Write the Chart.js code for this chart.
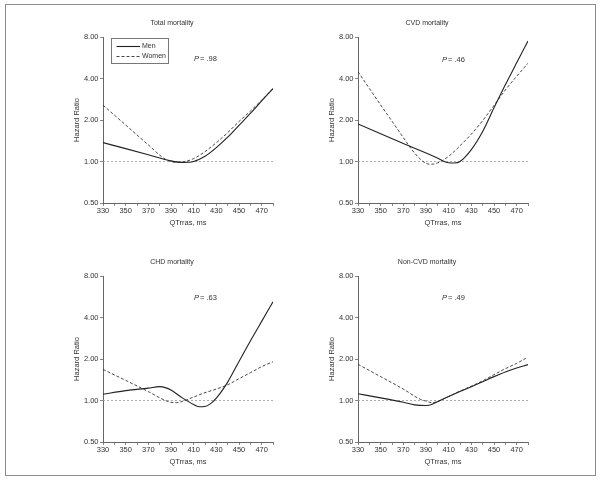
<!DOCTYPE html>
<html><head><meta charset="utf-8">
<script src="https://cdn.jsdelivr.net/npm/chart.js@4.4.1/dist/chart.umd.min.js"></script>
<style>
body{margin:0;background:#fff;width:600px;height:482px;position:relative;overflow:hidden}
#frame{position:absolute;left:5px;top:4px;width:591px;height:472px;border:1px solid #8a8a8a;box-sizing:border-box}
canvas{position:absolute}
</style></head><body>
<div id="frame"></div>
<canvas id="p1" width="207" height="211" style="left:71px;top:17px"></canvas>
<canvas id="p2" width="207" height="211" style="left:326px;top:17px"></canvas>
<canvas id="p3" width="207" height="211" style="left:71px;top:256px"></canvas>
<canvas id="p4" width="207" height="211" style="left:326px;top:256px"></canvas>
<script>
// ---- data ----
const panelTitles = ["Total mortality", "CVD mortality", "CHD mortality", "Non-CVD mortality"];
const pValues = [".98", ".46", ".63", ".49"];
const seriesNames = ["Men", "Women"];
const yTickValues = [0.5, 1, 2, 4, 8];
const xLabelValues = [330, 350, 370, 390, 410, 430, 450, 470];

const totalMenX   = [330, 350, 370, 390, 400, 410, 420, 430, 440, 450, 460, 470, 480];
const totalMenY   = [1.37, 1.24, 1.12, 1.01, 0.985, 1.0, 1.09, 1.26, 1.50, 1.83, 2.23, 2.75, 3.38];
const totalWomenX = [330, 350, 370, 385, 395, 400, 410, 420, 430, 440, 450, 460, 470, 480];
const totalWomenY = [2.56, 1.84, 1.32, 1.04, 0.985, 0.99, 1.05, 1.18, 1.37, 1.62, 1.95, 2.32, 2.79, 3.38];

const cvdMenX   = [330, 370, 400, 405, 410, 415, 420, 430, 440, 450, 460, 470, 480];
const cvdMenY   = [1.87, 1.35, 1.06, 1.01, 0.98, 0.975, 1.0, 1.22, 1.65, 2.45, 3.6, 5.2, 7.47];
const cvdWomenX = [330, 340, 350, 360, 370, 380, 390, 395, 400, 410, 420, 430, 440, 450, 460, 470, 480];
const cvdWomenY = [4.48, 3.39, 2.57, 1.96, 1.49, 1.15, 0.97, 0.955, 0.975, 1.09, 1.30, 1.58, 1.98, 2.55, 3.3, 4.15, 5.16];

const chdMenX   = [330, 350, 370, 380, 385, 390, 400, 410, 415, 420, 425, 430, 440, 450, 460, 470, 480];
const chdMenY   = [1.11, 1.18, 1.23, 1.26, 1.24, 1.19, 1.045, 0.935, 0.90, 0.905, 0.95, 1.04, 1.36, 1.92, 2.7, 3.75, 5.2];
const chdWomenX = [330, 350, 370, 385, 390, 395, 400, 410, 420, 430, 440, 450, 460, 470, 480];
const chdWomenY = [1.68, 1.40, 1.16, 1.0, 0.97, 0.965, 0.985, 1.06, 1.14, 1.21, 1.30, 1.44, 1.59, 1.76, 1.91];

const noncvdMenX   = [330, 350, 370, 380, 390, 395, 400, 410, 420, 430, 440, 450, 460, 470, 480];
const noncvdMenY   = [1.12, 1.045, 0.97, 0.93, 0.92, 0.935, 0.98, 1.07, 1.16, 1.26, 1.37, 1.49, 1.61, 1.72, 1.82];
const noncvdWomenX = [330, 350, 370, 385, 390, 395, 400, 410, 420, 430, 440, 450, 460, 470, 478];
const noncvdWomenY = [1.83, 1.49, 1.21, 1.02, 0.99, 0.965, 0.98, 1.07, 1.17, 1.27, 1.39, 1.54, 1.70, 1.86, 2.02];

const refX = [330, 480];
const refY = [1, 1];

// ---- build ----
const FONT = "'Liberation Sans Narrow','Arial Narrow','Nimbus Sans Narrow','Liberation Sans',Arial,sans-serif";
Chart.defaults.font.family = FONT;
Chart.defaults.color = '#333';

const zip = (xs, ys) => xs.map((x, i) => ({x: x, y: ys[i]}));
const panels = [
  [totalMenX, totalMenY, totalWomenX, totalWomenY],
  [cvdMenX, cvdMenY, cvdWomenX, cvdWomenY],
  [chdMenX, chdMenY, chdWomenX, chdWomenY],
  [noncvdMenX, noncvdMenY, noncvdWomenX, noncvdWomenY]
];
const pOffsets = [[91, 22], [84, 23], [91, 22], [84, 22]];

function annotPlugin(idx) {
  return {
    id: 'annot' + idx,
    afterDatasetsDraw(chart) {
      const ctx = chart.ctx, a = chart.chartArea;
      ctx.save();
      ctx.fillStyle = '#333';
      ctx.textBaseline = 'middle';
      ctx.textAlign = 'left';
      // P value
      const px = a.left + pOffsets[idx][0], py = a.top + pOffsets[idx][1];
      ctx.font = 'italic 7.5px ' + FONT;
      ctx.fillText('P', px, py);
      const w = ctx.measureText('P').width;
      ctx.font = '7.5px ' + FONT;
      ctx.fillText('= ' + pValues[idx], px + w + 1, py);
      if (idx === 0) {
        const bx = a.left + 8, by = a.top + 0.5, bw = 57, bh = 25;
        ctx.strokeStyle = '#777';
        ctx.lineWidth = 1;
        ctx.strokeRect(Math.round(bx) + 0.5, Math.round(by) + 0.5, bw, bh);
        const ds = chart.data.datasets;
        [0, 1].forEach(k => {
          const ly = Math.round(by + 8.5 + k * 9.5) + 0.5;
          ctx.beginPath();
          ctx.strokeStyle = ds[k].borderColor;
          ctx.lineWidth = ds[k].borderWidth;
          ctx.setLineDash(ds[k].borderDash || []);
          ctx.moveTo(bx + 5.5, ly);
          ctx.lineTo(bx + 29, ly);
          ctx.stroke();
          ctx.setLineDash([]);
          ctx.fillStyle = '#333';
          ctx.font = '7px ' + FONT;
          ctx.fillText(ds[k].label, bx + 31, ly);
        });
      }
      ctx.restore();
    }
  };
}

panels.forEach((p, idx) => {
  new Chart(document.getElementById('p' + (idx + 1)), {
    type: 'line',
    data: {
      datasets: [
        {label: seriesNames[0], data: zip(p[0], p[1]), borderColor: '#222', borderWidth: 1.1,
         pointRadius: 0, cubicInterpolationMode: 'monotone', fill: false},
        {label: seriesNames[1], data: zip(p[2], p[3]), borderColor: '#333', borderWidth: 0.9, borderDash: [3, 2],
         pointRadius: 0, cubicInterpolationMode: 'monotone', fill: false},
        {label: 'ref', data: zip(refX, refY), borderColor: '#9a9a9a', borderWidth: 0.8, borderDash: [2, 2],
         pointRadius: 0, fill: false}
      ]
    },
    options: {
      responsive: false, animation: false, devicePixelRatio: 1,
      layout: {padding: {left: 0, right: 5, top: 0, bottom: 0}},
      plugins: {
        legend: {display: false}, tooltip: {enabled: false},
        title: {display: true, text: panelTitles[idx], color: '#333',
                font: {size: 7, weight: 'normal', lineHeight: 1.2}, padding: {top: 2.2, bottom: 9.4}}
      },
      scales: {
        x: {
          type: 'linear', min: 330, max: 480,
          afterFit: s => { s.height = 25; },
          ticks: {stepSize: 10, autoSkip: false, maxRotation: 0, padding: 0.5, font: {size: 7.5}, color: '#333',
                  callback: v => xLabelValues.includes(v) ? String(v) : ''},
          grid: {drawOnChartArea: false, drawTicks: true, tickLength: 3, color: '#666', lineWidth: 0.8},
          border: {display: true, color: '#666', width: 1},
          title: {display: true, text: 'QTrras, ms', font: {size: 7.5}, color: '#333', padding: {top: 0, bottom: 1}}
        },
        y: {
          type: 'logarithmic', min: 0.5, max: 8,
          afterFit: s => { s.width = 32; },
          afterBuildTicks: s => { s.ticks = yTickValues.map(v => ({value: v})); },
          ticks: {padding: 1.5, font: {size: 7.5}, color: '#333', callback: v => Number(v).toFixed(2)},
          grid: {drawOnChartArea: false, drawTicks: true, tickLength: 3, color: '#666', lineWidth: 0.8},
          border: {display: true, color: '#666', width: 1},
          title: {display: true, text: 'Hazard Ratio', font: {size: 7.5}, color: '#333', padding: {top: 1, bottom: 0}}
        }
      }
    },
    plugins: [annotPlugin(idx)]
  });
});
</script>
</body></html>
